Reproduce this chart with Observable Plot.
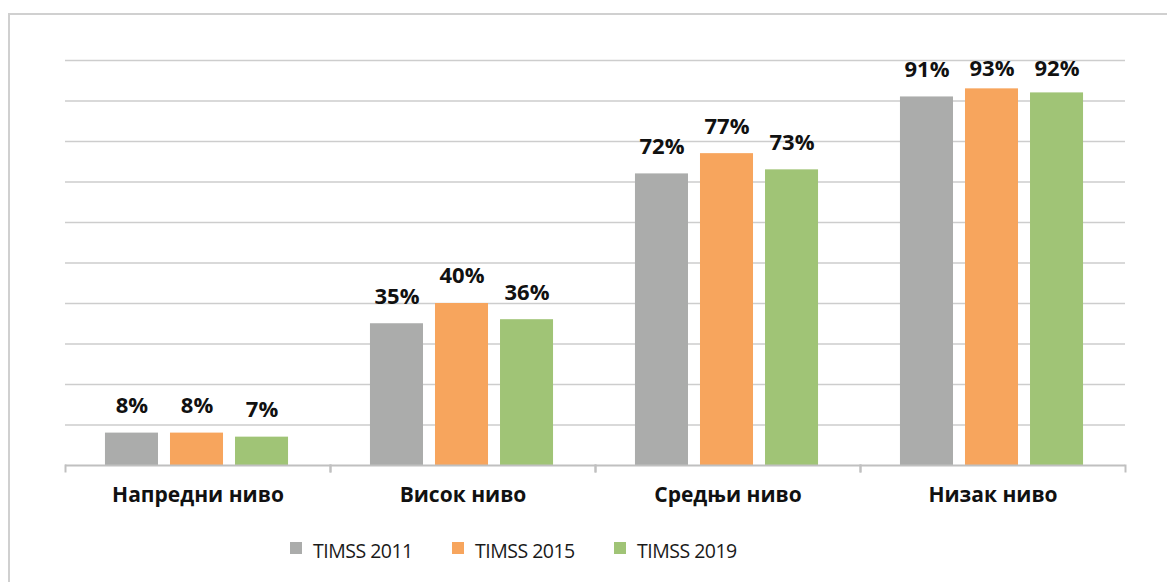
<!DOCTYPE html>
<html>
<head>
<meta charset="utf-8">
<script src="https://cdn.jsdelivr.net/npm/d3@7"></script>
<script src="https://cdn.jsdelivr.net/npm/@observablehq/plot@0.6"></script>
<style>
  html, body { margin: 0; padding: 0; background: #fff; }
  body { width: 1167px; height: 582px; overflow: hidden; position: relative; font-family: "Open Sans", "Noto Sans", sans-serif; }
  #frame { position: absolute; left: 8px; top: 13px; width: 1300px; height: 700px; border: 2px solid #d0d0d0; box-sizing: border-box; }
  #chart { position: absolute; left: 0; top: 0; }
  #chart svg { font-family: "Open Sans", "Noto Sans", sans-serif; overflow: visible; }
  #legend { position: absolute; left: 290px; top: 537px; display: flex; }
  .item { width: 162px; display: flex; align-items: flex-start; font-size: 19.5px; color: #1a1a1a; letter-spacing: -0.5px; }
  .swatch { width: 12px; height: 12px; margin-top: 5px; margin-right: 11px; flex: none; }
</style>
</head>
<body>
<div id="frame"></div>
<div id="chart"></div>
<div id="legend"></div>
<script>
const categories = ["Напредни ниво", "Висок ниво", "Средњи ниво", "Низак ниво"];
const series = ["TIMSS 2011", "TIMSS 2015", "TIMSS 2019"];
const timss2011 = [8, 35, 72, 91];
const timss2015 = [8, 40, 77, 93];
const timss2019 = [7, 36, 73, 92];
const colors = ["#abacab", "#f7a55d", "#a0c476"];
const gridTicks = [10, 20, 30, 40, 50, 60, 70, 80, 90, 100];

const valuesBySeries = [timss2011, timss2015, timss2019];
const data = [];
categories.forEach((c, i) => {
  series.forEach((s, j) => data.push({category: c, series: s, value: valuesBySeries[j][i]}));
});

const W = 1167, H = 520, mT = 60, mB = 55, mL = 65, mR = 42;
const plotH = H - mT - mB;

const chart = Plot.plot({
  width: W, height: H,
  marginTop: mT, marginBottom: mB, marginLeft: mL, marginRight: mR,
  fx: {domain: categories, padding: 0, round: false},
  x: {domain: series, paddingInner: 12 / 65, paddingOuter: 0.63, round: false, axis: null},
  y: {domain: [0, 100], axis: null},
  color: {domain: series, range: colors},
  marks: [
    Plot.ruleY(gridTicks, {stroke: "#cdcdcd", strokeWidth: 1.5}),
    Plot.barY(data, {fx: "category", x: "series", y: "value", fill: "series", dx: -1}),
    Plot.ruleY([0], {stroke: "#c0c0c0", strokeWidth: 2}),
    Plot.frame({anchor: "left", stroke: "#c0c0c0", strokeWidth: 2, insetTop: plotH - 6, dy: 6}),
    Plot.frame({anchor: "right", stroke: "#c0c0c0", strokeWidth: 2, insetTop: plotH - 6, dy: 6}),
    Plot.text(data, {
      fx: "category", x: "series",
      y: d => Math.min(d.value + 6.7, 98),
      text: d => d.value + "%",
      fontSize: 22, fontWeight: "bold", fill: "#111", lineAnchor: "middle", dx: -1
    }),
    Plot.axisFx({anchor: "bottom", tickSize: 0, tickPadding: 22, fontSize: 21, fontWeight: "bold", fill: "#111", label: null})
  ]
});
document.getElementById("chart").appendChild(chart);

const legend = document.getElementById("legend");
series.forEach((s, i) => {
  const item = document.createElement("div");
  item.className = "item";
  const sw = document.createElement("span");
  sw.className = "swatch";
  sw.style.background = colors[i];
  const tx = document.createElement("span");
  tx.textContent = s;
  item.appendChild(sw);
  item.appendChild(tx);
  legend.appendChild(item);
});
</script>
</body>
</html>
